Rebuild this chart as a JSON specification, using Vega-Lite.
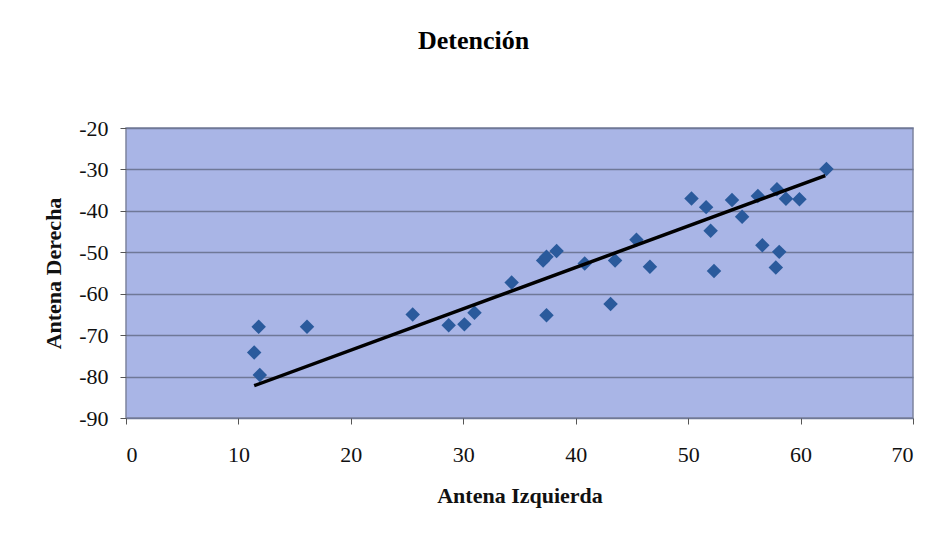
{
  "$schema": "https://vega.github.io/schema/vega-lite/v6.json",
  "width": 787,
  "height": 290,
  "autosize": {"type": "none"},
  "padding": {"left": 126, "top": 128, "right": 21, "bottom": 115},
  "background": "white",
  "title": {
    "text": "Detención",
    "font": "Liberation Serif",
    "fontSize": 26,
    "fontWeight": "bold",
    "color": "black",
    "dx": -46,
    "baseline": "alphabetic",
    "offset": 42
  },
  "config": {
    "view": {"fill": "#a9b5e6", "stroke": "#7d849e", "strokeWidth": 1.5},
    "axis": {
      "labelFont": "Liberation Serif",
      "labelFontSize": 22,
      "labelColor": "#111111",
      "titleFont": "Liberation Serif",
      "titleFontSize": 22,
      "titleFontWeight": "bold",
      "titleColor": "#111111",
      "tickColor": "#555555",
      "tickSize": 6,
      "domain": false,
      "labelExpr": "toString(datum.value)"
    }
  },
  "datasets": {
    "points": [
      {"izq": 11.8, "der": -68.0},
      {"izq": 11.4, "der": -74.2},
      {"izq": 11.9, "der": -79.6},
      {"izq": 16.1, "der": -68.0},
      {"izq": 25.5, "der": -65.0},
      {"izq": 28.7, "der": -67.6},
      {"izq": 30.1, "der": -67.4},
      {"izq": 31.0, "der": -64.6},
      {"izq": 34.3, "der": -57.3},
      {"izq": 37.1, "der": -52.0},
      {"izq": 37.4, "der": -51.1},
      {"izq": 38.3, "der": -49.7},
      {"izq": 37.4, "der": -65.2},
      {"izq": 40.8, "der": -52.7},
      {"izq": 43.5, "der": -52.0},
      {"izq": 43.1, "der": -62.5},
      {"izq": 45.4, "der": -47.0},
      {"izq": 46.6, "der": -53.5},
      {"izq": 50.3, "der": -37.0},
      {"izq": 51.6, "der": -39.1},
      {"izq": 52.0, "der": -44.8},
      {"izq": 52.3, "der": -54.5},
      {"izq": 53.9, "der": -37.4},
      {"izq": 54.8, "der": -41.4},
      {"izq": 56.2, "der": -36.4},
      {"izq": 56.6, "der": -48.3},
      {"izq": 57.9, "der": -34.8},
      {"izq": 58.7, "der": -37.1},
      {"izq": 58.1, "der": -49.9},
      {"izq": 57.8, "der": -53.7},
      {"izq": 59.9, "der": -37.2},
      {"izq": 62.3, "der": -29.9}
    ],
    "trend": [
      {"izq": 11.4, "der": -82.2},
      {"izq": 62.2, "der": -31.5}
    ]
  },
  "layer": [
    {
      "data": {"name": "points"},
      "mark": {"type": "point", "shape": "diamond", "filled": true, "size": 210, "color": "#2a5a9c", "opacity": 1},
      "encoding": {
        "x": {
          "field": "izq",
          "type": "quantitative",
          "scale": {"domain": [0, 70], "nice": false, "zero": false},
          "axis": {"title": "Antena Izquierda", "values": [0, 10, 20, 30, 40, 50, 60, 70], "grid": false, "labelPadding": 20, "titlePadding": 20}
        },
        "y": {
          "field": "der",
          "type": "quantitative",
          "scale": {"domain": [-90, -20], "nice": false, "zero": false},
          "axis": {"title": "Antena Derecha", "values": [-90, -80, -70, -60, -50, -40, -30, -20], "grid": true, "gridColor": "#6f7897", "gridWidth": 1.5, "gridOpacity": 1, "labelPadding": 12, "titlePadding": 13}
        }
      }
    },
    {
      "data": {"name": "trend"},
      "mark": {"type": "line", "color": "black", "strokeWidth": 3.5},
      "encoding": {
        "x": {"field": "izq", "type": "quantitative"},
        "y": {"field": "der", "type": "quantitative"}
      }
    }
  ]
}
